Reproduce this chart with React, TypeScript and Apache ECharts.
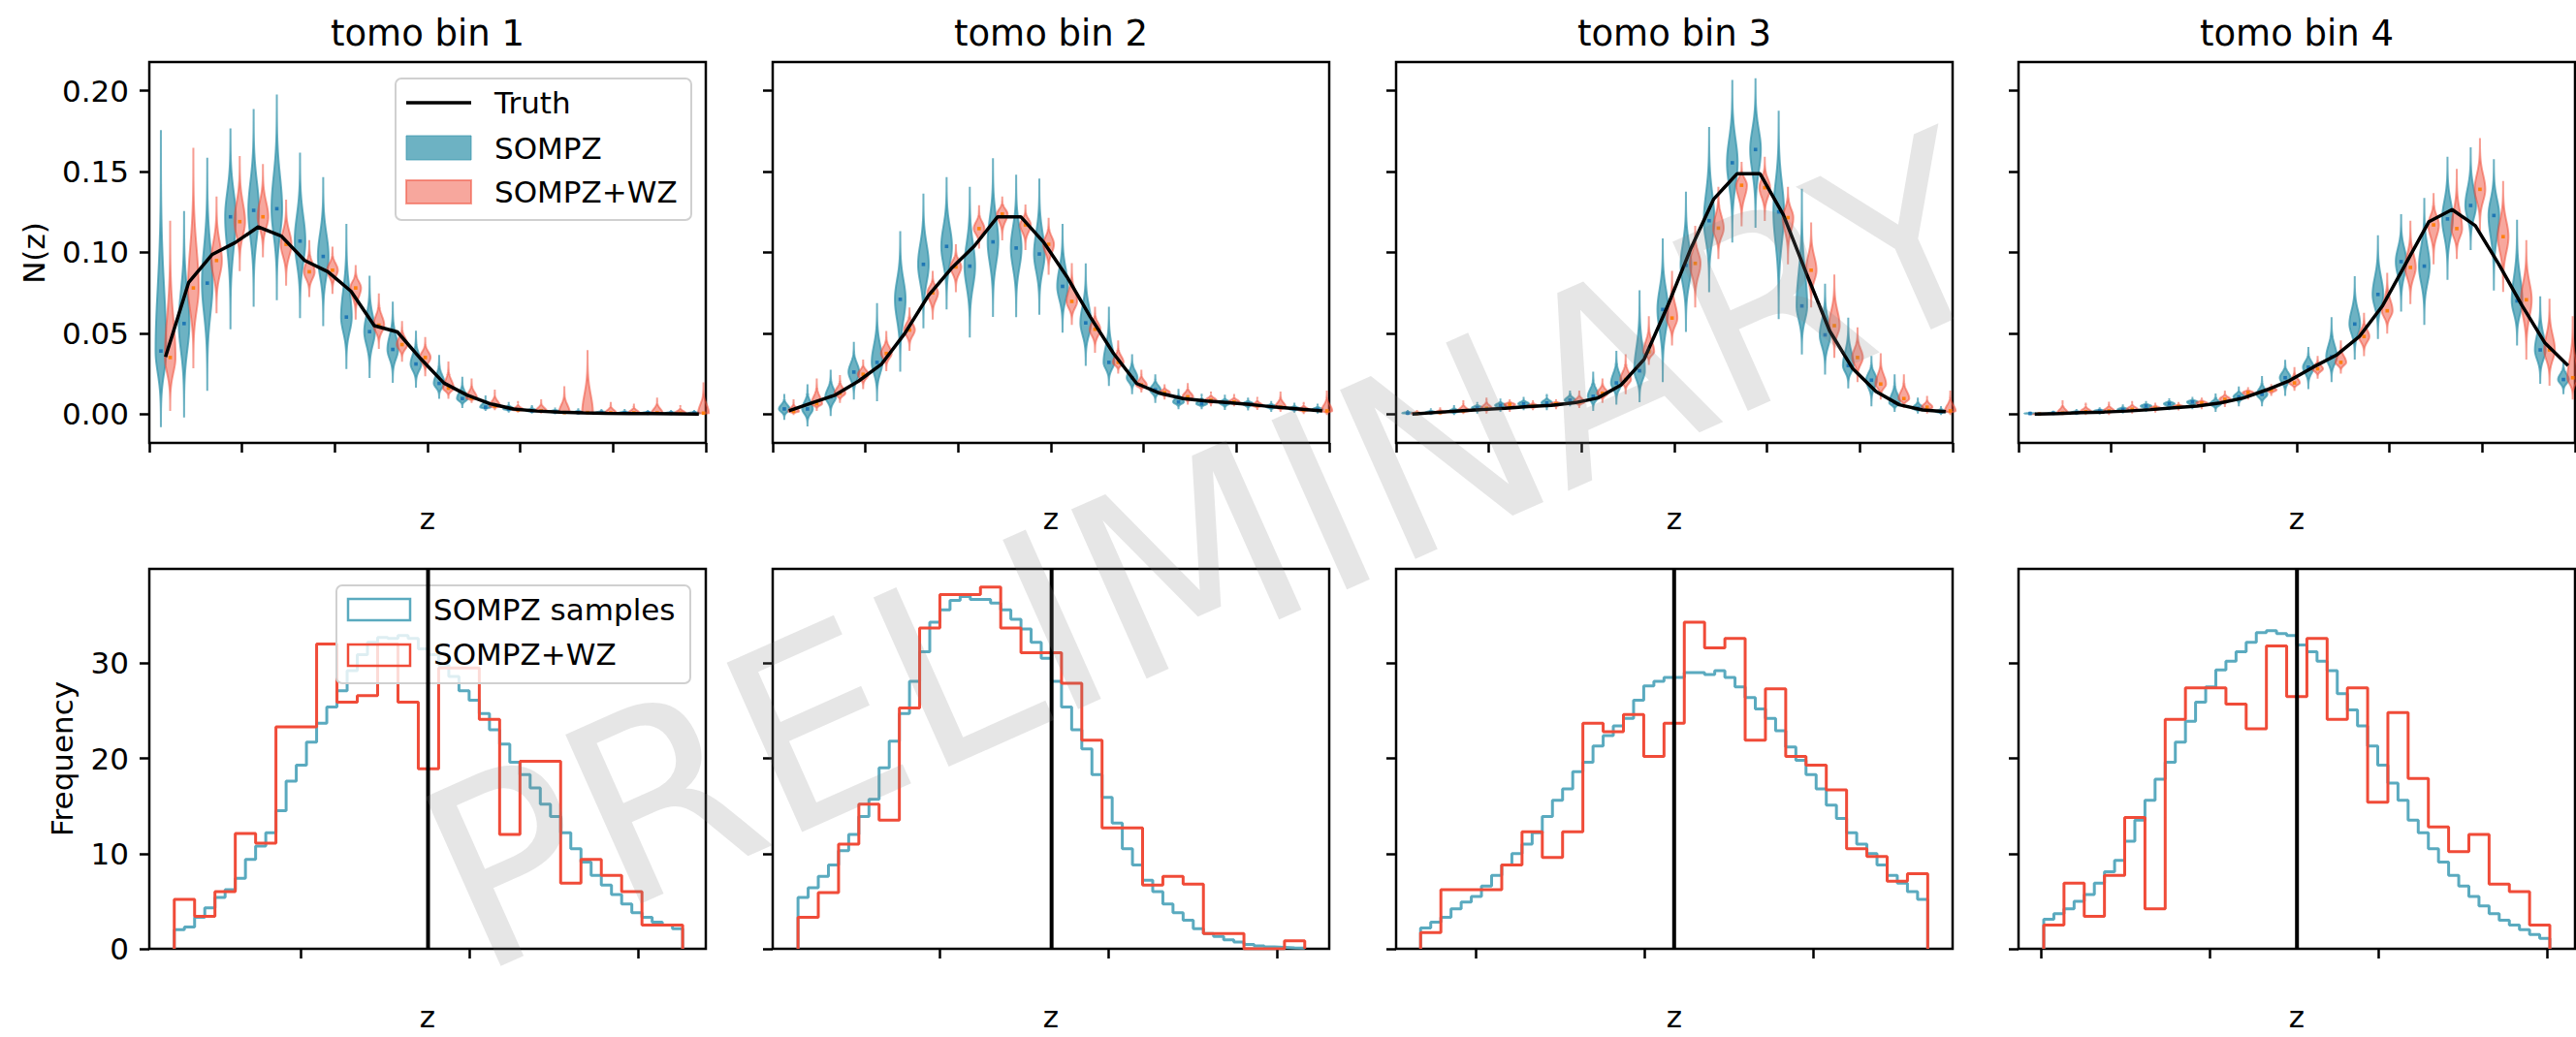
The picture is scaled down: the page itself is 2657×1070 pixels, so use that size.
import React, { useEffect, useRef } from "react";
import * as echarts from "echarts";

// ---------------- Figure layout ----------------
const FIG_W = 2657;
const FIG_H = 1070;
const PANEL_LEFT = [154, 797, 1440, 2082];
const PANEL_W = 574;
const TOP_Y = 64;
const TOP_H = 393;
const BOT_Y = 587;
const BOT_H = 392;
const FONT = "DejaVu Sans";

// ---------------- Top row: N(z) violins ----------------
const zBinCenters = [0.025, 0.075, 0.125, 0.175, 0.225, 0.275, 0.325, 0.375, 0.425, 0.475, 0.525, 0.575, 0.625, 0.675, 0.725, 0.775, 0.825, 0.875, 0.925, 0.975, 1.025, 1.075, 1.125, 1.175];
const SOMPZ_OFFSET = 0;
const TRUTH_OFFSET = 0.01;
const WZ_OFFSET = 0.02;
const nzTicksX = [0, 0.2, 0.4, 0.6, 0.8, 1.0, 1.2];
const nzTicksY = [0, 0.05, 0.1, 0.15, 0.2];
const NZ_Y_MIN = -0.0178;
const NZ_Y_MAX = 0.2177;
const titles = ["tomo bin 1", "tomo bin 2", "tomo bin 3", "tomo bin 4"];

// tomo bin 1
const bin1SompzMed = [0.039, 0.056, 0.081, 0.122, 0.126, 0.127, 0.107, 0.0975, 0.060, 0.051, 0.040, 0.031, 0.019, 0.0096, 0.0043, 0.0032, 0.002, 0.0015, 0.001, 0.001, 0.0008, 0.0008, 0.0006, 0.0006];
const bin1SompzLo = [-0.0075, -0.0015, 0.015, 0.053, 0.067, 0.071, 0.060, 0.055, 0.0285, 0.023, 0.020, 0.017, 0.010, 0.0043, 0.0026, 0.0015, 0.001, 0.0005, 0.0003, 0.0002, 0.0002, 0.0001, 0.0001, 0.0001];
const bin1SompzHi = [0.175, 0.125, 0.158, 0.176, 0.188, 0.197, 0.161, 0.146, 0.117, 0.085, 0.069, 0.051, 0.036, 0.0225, 0.011, 0.0069, 0.005, 0.0035, 0.003, 0.0025, 0.0025, 0.002, 0.002, 0.002];
const bin1WzMed = [0.035, 0.078, 0.095, 0.119, 0.122, 0.105, 0.088, 0.089, 0.078, 0.055, 0.043, 0.035, 0.016, 0.010, 0.005, 0.0026, 0.002, 0.001, 0.001, 0.0008, 0.0008, 0.0008, 0.0006, 0.0006];
const bin1WzLo = [0.0025, 0.029, 0.063, 0.089, 0.0975, 0.080, 0.073, 0.075, 0.059, 0.041, 0.033, 0.024, 0.010, 0.0075, 0.003, 0.0015, 0.001, 0.0006, 0.0006, 0.0004, 0.0004, 0.0004, 0.0003, 0.0003];
const bin1WzHi = [0.119, 0.164, 0.134, 0.159, 0.154, 0.132, 0.107, 0.103, 0.0915, 0.074, 0.057, 0.047, 0.032, 0.0215, 0.0146, 0.0075, 0.0086, 0.0167, 0.039, 0.0069, 0.0058, 0.0096, 0.005, 0.019];
const bin1Truth = [0.0354, 0.0815, 0.0986, 0.106, 0.1158, 0.110, 0.095, 0.088, 0.076, 0.0547, 0.0508, 0.0343, 0.0193, 0.0118, 0.0064, 0.0032, 0.0019, 0.0012, 0.0008, 0.0005, 0.0004, 0.0003, 0.0002, 0.0001];

// tomo bin 2
const bin2SompzMed = [0.0032, 0.0032, 0.0107, 0.026, 0.032, 0.071, 0.0926, 0.1037, 0.0915, 0.1065, 0.1027, 0.099, 0.079, 0.0564, 0.032, 0.0225, 0.015, 0.0075, 0.0064, 0.007, 0.0064, 0.0047, 0.0032, 0.0028];
const bin2SompzLo = [-0.003, -0.007, -0.0006, 0.0096, 0.0086, 0.0268, 0.0536, 0.0654, 0.048, 0.0607, 0.0605, 0.062, 0.051, 0.0304, 0.018, 0.0129, 0.0075, 0.0036, 0.0036, 0.0032, 0.0028, 0.002, 0.0015, 0.001];
const bin2SompzHi = [0.0118, 0.0178, 0.0268, 0.044, 0.068, 0.1125, 0.1357, 0.146, 0.140, 0.1576, 0.1475, 0.145, 0.117, 0.0926, 0.0658, 0.0364, 0.024, 0.015, 0.012, 0.0114, 0.0096, 0.0075, 0.0064, 0.0058];
const bin2WzMed = [0.0017, 0.0064, 0.0129, 0.0246, 0.0375, 0.052, 0.075, 0.091, 0.1147, 0.1237, 0.117, 0.105, 0.0697, 0.0525, 0.032, 0.018, 0.0133, 0.0107, 0.0086, 0.0075, 0.0054, 0.0043, 0.0026, 0.002];
const bin2WzLo = [0, 0.0026, 0.0075, 0.016, 0.0272, 0.0397, 0.059, 0.076, 0.103, 0.108, 0.102, 0.0868, 0.0557, 0.0386, 0.0257, 0.0139, 0.0096, 0.0064, 0.0054, 0.0054, 0.0032, 0.002, 0.0006, 0];
const bin2WzHi = [0.0086, 0.0214, 0.0236, 0.0332, 0.0508, 0.0654, 0.088, 0.1044, 0.1286, 0.134, 0.129, 0.1207, 0.0928, 0.0658, 0.045, 0.0268, 0.0178, 0.0186, 0.0133, 0.0118, 0.010, 0.0133, 0.0069, 0.014];
const bin2Truth = [0.002, 0.007, 0.0118, 0.0204, 0.031, 0.050, 0.073, 0.090, 0.104, 0.122, 0.122, 0.106, 0.0847, 0.060, 0.0375, 0.0189, 0.0129, 0.0096, 0.0081, 0.007, 0.0058, 0.0043, 0.0032, 0.002];

// tomo bin 3
const bin3SompzMed = [0.0006, 0.001, 0.0017, 0.0039, 0.0054, 0.0064, 0.0069, 0.0086, 0.011, 0.0193, 0.0268, 0.0647, 0.092, 0.1196, 0.1554, 0.1636, 0.125, 0.0669, 0.049, 0.030, 0.021, 0.007, 0.0036, 0.0015];
const bin3SompzLo = [0, 0, 0, 0.001, 0.002, 0.003, 0.003, 0.0054, 0.0026, 0.0064, 0.008, 0.0204, 0.0514, 0.076, 0.1067, 0.1158, 0.0594, 0.0375, 0.025, 0.0165, 0.0054, 0.002, 0.001, 0];
const bin3SompzHi = [0.002, 0.003, 0.005, 0.0069, 0.009, 0.010, 0.0118, 0.014, 0.0257, 0.0386, 0.076, 0.108, 0.137, 0.177, 0.206, 0.207, 0.187, 0.1387, 0.080, 0.059, 0.0354, 0.024, 0.0096, 0.0043];
const bin3WzMed = [0.0004, 0.001, 0.002, 0.0036, 0.006, 0.005, 0.0064, 0.0075, 0.0129, 0.0214, 0.0386, 0.0594, 0.0932, 0.115, 0.1415, 0.140, 0.1215, 0.089, 0.0547, 0.035, 0.0186, 0.0096, 0.0043, 0.002];
const bin3WzLo = [0, 0, 0.0006, 0.001, 0.002, 0.003, 0.0036, 0.0043, 0.0075, 0.0129, 0.031, 0.043, 0.0665, 0.0965, 0.1168, 0.120, 0.0932, 0.0665, 0.0354, 0.0204, 0.0096, 0.0043, 0.001, 0];
const bin3WzHi = [0.002, 0.0036, 0.008, 0.0096, 0.0086, 0.008, 0.0086, 0.014, 0.0214, 0.0364, 0.060, 0.088, 0.1158, 0.140, 0.1554, 0.1586, 0.140, 0.118, 0.0857, 0.053, 0.0371, 0.024, 0.0107, 0.014];
const bin3Truth = [0.0, 0.001, 0.002, 0.0028, 0.0036, 0.0047, 0.0054, 0.007, 0.010, 0.018, 0.034, 0.0665, 0.102, 0.133, 0.1486, 0.1486, 0.1233, 0.0868, 0.0514, 0.028, 0.014, 0.0058, 0.0026, 0.0015];

// tomo bin 4
const bin4SompzMed = [0.0004, 0.0006, 0.001, 0.002, 0.0028, 0.005, 0.0064, 0.0075, 0.0064, 0.0107, 0.0122, 0.0225, 0.029, 0.0354, 0.0557, 0.074, 0.0943, 0.0915, 0.1207, 0.129, 0.1228, 0.070, 0.0397, 0.0214];
const bin4SompzLo = [0, 0, 0, 0.0004, 0.001, 0.002, 0.003, 0.0036, 0.002, 0.0054, 0.0054, 0.0118, 0.016, 0.0204, 0.0343, 0.047, 0.064, 0.0557, 0.0836, 0.102, 0.077, 0.043, 0.0193, 0.0129];
const bin4SompzHi = [0.001, 0.0015, 0.0026, 0.0036, 0.0054, 0.0075, 0.0092, 0.010, 0.0122, 0.0165, 0.023, 0.033, 0.041, 0.0594, 0.0847, 0.110, 0.123, 0.133, 0.1586, 0.1644, 0.157, 0.1196, 0.0722, 0.033];
const bin4WzMed = [0, 0.0006, 0.0015, 0.002, 0.003, 0.0036, 0.0047, 0.0069, 0.0092, 0.0133, 0.015, 0.0193, 0.028, 0.032, 0.048, 0.0639, 0.0907, 0.117, 0.1147, 0.139, 0.1097, 0.0707, 0.0397, 0.0225];
const bin4WzLo = [0, 0, 0, 0, 0.001, 0.0015, 0.0028, 0.0036, 0.0049, 0.0096, 0.0118, 0.015, 0.0225, 0.0257, 0.0364, 0.0504, 0.0686, 0.0932, 0.0965, 0.1137, 0.0761, 0.0343, 0.0182, 0.0096];
const bin4WzHi = [0.0006, 0.008, 0.0064, 0.007, 0.0075, 0.0064, 0.0069, 0.0096, 0.014, 0.016, 0.018, 0.0285, 0.0354, 0.045, 0.062, 0.0868, 0.119, 0.136, 0.151, 0.170, 0.1436, 0.107, 0.0707, 0.060];
const bin4Truth = [0.0, 0.0004, 0.0009, 0.0013, 0.0019, 0.0028, 0.0039, 0.005, 0.0069, 0.010, 0.015, 0.0208, 0.029, 0.0364, 0.048, 0.067, 0.093, 0.119, 0.1265, 0.1165, 0.093, 0.0675, 0.044, 0.030];

// ---------------- Bottom row: mean-z histograms ----------------
const histYTicks = [0, 10, 20, 30];
const HIST_Y_MAX = 39.9;
const histXMin = [0.28205, 0.480121, 0.710568, 0.897333];
const histXMax = [0.34803, 0.546206, 0.776493, 0.96331];
const histXTicks = [[0.30, 0.32, 0.34], [0.50, 0.52, 0.54], [0.72, 0.74, 0.76], [0.90, 0.92, 0.94, 0.96]];
const histStart = [0.28501, 0.483127, 0.71347, 0.900322];
const wzBinWidth = [0.002411, 0.002407, 0.002403, 0.0024];
const sompzBinWidth = [0.0012055, 0.0012035, 0.0012015, 0.0012];
const truthMeanZ = [0.3151, 0.51324, 0.743507, 0.930345];

const wzCounts1 = [5.2, 3.4, 6.0, 12.1, 11.1, 23.3, 23.3, 32.0, 25.9, 26.6, 32.0, 25.9, 18.9, 29.5, 29.5, 24.1, 12.0, 19.7, 19.7, 6.9, 9.4, 7.7, 6.0, 2.5, 2.5];
const wzCounts2 = [3.3, 5.9, 11.0, 15.2, 13.5, 25.3, 33.7, 37.2, 37.2, 38.0, 33.7, 31.1, 31.1, 27.9, 21.9, 12.7, 12.7, 6.7, 7.6, 6.8, 1.6, 1.6, 0, 0, 0.85];
const wzCounts3 = [1.7, 6.2, 6.2, 6.2, 8.8, 12.3, 9.6, 12.3, 23.7, 22.8, 24.6, 20.2, 23.7, 34.3, 31.6, 32.6, 21.9, 27.3, 20.2, 19.3, 16.7, 10.5, 9.7, 7.1, 7.9];
const wzCounts4 = [2.5, 6.9, 3.4, 7.7, 13.8, 4.2, 24.1, 27.4, 27.4, 25.7, 23.1, 31.8, 26.5, 32.6, 24.1, 27.4, 15.4, 24.8, 17.9, 12.8, 10.2, 12.0, 6.8, 6.0, 2.5];

const sompzCounts1 = [2.0, 2.3, 3.3, 4.3, 5.4, 6.2, 7.4, 9.4, 10.8, 12.2, 14.5, 17.6, 19.3, 21.7, 23.7, 25.4, 27.1, 29.2, 30.9, 32.2, 32.7, 32.6, 32.9, 32.6, 31.5, 30.9, 29.8, 28.6, 27.1, 26.1, 24.7, 23.0, 21.5, 19.6, 18.3, 16.9, 15.2, 13.9, 12.2, 10.5, 9.1, 7.7, 6.7, 5.7, 4.7, 3.8, 3.3, 2.8, 2.5, 2.1];
const sompzCounts2 = [5.4, 6.4, 7.6, 8.8, 10.3, 12.0, 13.9, 15.7, 19.0, 21.8, 24.7, 28.1, 31.2, 34.3, 35.6, 36.6, 37.0, 36.7, 36.7, 36.3, 35.6, 34.6, 33.6, 32.2, 30.5, 28.1, 25.4, 23.0, 21.0, 18.3, 15.9, 13.2, 10.5, 8.8, 7.2, 6.0, 4.7, 3.8, 3.0, 2.1, 1.6, 1.3, 0.95, 0.7, 0.45, 0.3, 0.2, 0.15, 0.1, 0.07];
const sompzCounts3 = [2.2, 2.8, 3.3, 4.2, 4.9, 5.5, 6.6, 7.7, 8.8, 10.0, 11.0, 12.2, 13.9, 15.6, 16.8, 18.6, 19.6, 21.3, 22.4, 23.4, 24.2, 26.1, 27.6, 28.1, 28.5, 28.5, 29.0, 29.0, 28.8, 29.2, 28.5, 27.5, 26.4, 25.2, 24.2, 22.9, 21.2, 19.8, 18.3, 16.8, 15.1, 13.7, 12.2, 11.0, 10.0, 8.8, 7.7, 6.9, 6.0, 5.2];
const sompzCounts4 = [3.1, 3.7, 4.2, 5.0, 5.7, 6.9, 8.1, 9.3, 11.3, 13.5, 15.6, 17.8, 19.6, 21.7, 23.9, 25.9, 27.5, 29.3, 30.2, 31.2, 32.2, 33.2, 33.4, 33.1, 32.9, 31.9, 31.2, 30.2, 29.2, 26.8, 25.1, 23.4, 21.3, 19.3, 17.4, 15.6, 13.5, 12.2, 10.5, 9.1, 7.7, 6.6, 5.5, 4.5, 3.7, 3.0, 2.5, 2.0, 1.5, 1.1];

// ---------------- Styles ----------------
const SOMPZ_FILL = "rgba(52,148,172,0.72)";
const SOMPZ_EDGE = "rgba(52,148,172,0.72)";
const WZ_FILL = "rgba(240,80,60,0.5)";
const WZ_EDGE = "rgba(240,80,60,0.55)";
const SOMPZ_DOT = "#1f77b4";
const WZ_DOT = "#ff7f0e";
const HIST_BLUE = "#5aaabf";
const HIST_RED = "#f04b38";
const VIOLIN_WIDTH = 0.023;
const TAIL_K = 3.5;

const nzPanels = [
  { sompz: [bin1SompzLo, bin1SompzMed, bin1SompzHi], wz: [bin1WzLo, bin1WzMed, bin1WzHi], truth: bin1Truth },
  { sompz: [bin2SompzLo, bin2SompzMed, bin2SompzHi], wz: [bin2WzLo, bin2WzMed, bin2WzHi], truth: bin2Truth },
  { sompz: [bin3SompzLo, bin3SompzMed, bin3SompzHi], wz: [bin3WzLo, bin3WzMed, bin3WzHi], truth: bin3Truth },
  { sompz: [bin4SompzLo, bin4SompzMed, bin4SompzHi], wz: [bin4WzLo, bin4WzMed, bin4WzHi], truth: bin4Truth },
];
const wzCounts = [wzCounts1, wzCounts2, wzCounts3, wzCounts4];
const sompzCounts = [sompzCounts1, sompzCounts2, sompzCounts3, sompzCounts4];

function makeViolinRenderer(fill: string, stroke: string, dot: string) {
  return function (params: any, api: any) {
    const x = api.value(0);
    const lo = api.value(1);
    const med = api.value(2);
    const hi = api.value(3);
    const half = api.size([VIOLIN_WIDTH, 0])[0] / 2;
    const sUp = Math.max((hi - med) / TAIL_K, 1e-6);
    const sDn = Math.max((med - lo) / TAIL_K, 1e-6);
    const vals: number[] = [];
    const N = 30;
    for (let k = 0; k <= N; k++) vals.push(lo + ((med - lo) * k) / N);
    for (let k = 1; k <= N; k++) vals.push(med + ((hi - med) * k) / N);
    const right: number[][] = [];
    const left: number[][] = [];
    for (const v of vals) {
      const s = v >= med ? sUp : sDn;
      const d = (v - med) / s;
      const w = half * Math.exp(-0.5 * d * d);
      const p = api.coord([x, v]);
      right.push([p[0] + w, p[1]]);
      left.push([p[0] - w, p[1]]);
    }
    left.reverse();
    const pm = api.coord([x, med]);
    return {
      type: "group",
      children: [
        { type: "polygon", shape: { points: right.concat(left) }, style: { fill, stroke, lineWidth: 2 } },
        { type: "rect", shape: { x: pm[0] - 1.8, y: pm[1] - 1.8, width: 3.6, height: 3.6 }, style: { fill: dot } },
      ],
    };
  };
}

function stepPoints(start: number, width: number, counts: number[]) {
  const pts: number[][] = [[start, 0]];
  counts.forEach((c, i) => {
    pts.push([start + i * width, c]);
    pts.push([start + (i + 1) * width, c]);
  });
  pts.push([start + counts.length * width, 0]);
  return pts;
}

const tickStyle = { color: "#000", width: 2.5 };
const labelStyle = { color: "#000", fontSize: 31, fontFamily: FONT, margin: 21 };

function textEl(text: string, x: number, y: number, opts: any = {}) {
  return {
    type: "text",
    x,
    y,
    rotation: opts.rotation || 0,
    z: opts.z || 30,
    silent: true,
    style: {
      text,
      fill: opts.fill || "#000",
      fontSize: opts.fontSize || 31,
      fontFamily: FONT,
      align: opts.align || "center",
      verticalAlign: "middle",
      textAlign: opts.align || "center",
      textVerticalAlign: "middle",
    },
  };
}

function buildOption() {
  const grid: any[] = [];
  const xAxis: any[] = [];
  const yAxis: any[] = [];
  const series: any[] = [];

  // top row
  nzPanels.forEach((p, k) => {
    grid.push({ left: PANEL_LEFT[k], top: TOP_Y, width: PANEL_W, height: TOP_H, show: true, borderColor: "#000", borderWidth: 2.5, backgroundColor: "transparent", outerBoundsMode: "none" });
    xAxis.push({
      gridIndex: k, type: "value", min: 0, max: 1.2, interval: 0.2,
      axisLine: { show: false, onZero: false },
      axisTick: { show: true, length: 10, lineStyle: tickStyle, customValues: nzTicksX },
      axisLabel: { show: false }, splitLine: { show: false },
    });
    yAxis.push({
      gridIndex: k, type: "value", min: NZ_Y_MIN, max: NZ_Y_MAX,
      axisLine: { show: false, onZero: false },
      axisTick: { show: true, length: 10, lineStyle: tickStyle, customValues: nzTicksY },
      axisLabel: k === 0 ? { show: true, customValues: nzTicksY, formatter: (v: number) => v.toFixed(2), ...labelStyle } : { show: false },
      splitLine: { show: false },
    });
    series.push({
      type: "custom", name: "SOMPZ", xAxisIndex: k, yAxisIndex: k, z: 3, silent: true,
      renderItem: makeViolinRenderer(SOMPZ_FILL, SOMPZ_EDGE, SOMPZ_DOT),
      data: zBinCenters.map((c, i) => [c + SOMPZ_OFFSET, p.sompz[0][i], p.sompz[1][i], p.sompz[2][i]]),
    });
    series.push({
      type: "custom", name: "SOMPZ+WZ", xAxisIndex: k, yAxisIndex: k, z: 4, silent: true,
      renderItem: makeViolinRenderer(WZ_FILL, WZ_EDGE, WZ_DOT),
      data: zBinCenters.map((c, i) => [c + WZ_OFFSET, p.wz[0][i], p.wz[1][i], p.wz[2][i]]),
    });
    series.push({
      type: "line", name: "Truth", xAxisIndex: k, yAxisIndex: k, z: 5, silent: true,
      showSymbol: false, symbol: "none", lineStyle: { color: "#000", width: 3.5 },
      data: zBinCenters.map((c, i) => [c + TRUTH_OFFSET, p.truth[i]]),
    });
  });

  // bottom row
  for (let k = 0; k < 4; k++) {
    const gi = 4 + k;
    grid.push({ left: PANEL_LEFT[k], top: BOT_Y, width: PANEL_W, height: BOT_H, show: true, borderColor: "#000", borderWidth: 2.5, backgroundColor: "transparent", outerBoundsMode: "none" });
    xAxis.push({
      gridIndex: gi, type: "value", min: histXMin[k], max: histXMax[k],
      axisLine: { show: false, onZero: false },
      axisTick: { show: true, length: 10, lineStyle: tickStyle, customValues: histXTicks[k] },
      axisLabel: { show: false }, splitLine: { show: false },
    });
    yAxis.push({
      gridIndex: gi, type: "value", min: 0, max: HIST_Y_MAX,
      axisLine: { show: false, onZero: false },
      axisTick: { show: true, length: 10, lineStyle: tickStyle, customValues: histYTicks },
      axisLabel: k === 0 ? { show: true, customValues: histYTicks, formatter: (v: number) => String(v), ...labelStyle } : { show: false },
      splitLine: { show: false },
    });
    series.push({
      type: "line", name: "SOMPZ samples", xAxisIndex: gi, yAxisIndex: gi, z: 3, silent: true,
      showSymbol: false, symbol: "none", lineStyle: { color: HIST_BLUE, width: 3 },
      data: stepPoints(histStart[k], sompzBinWidth[k], sompzCounts[k]),
    });
    series.push({
      type: "line", name: "SOMPZ+WZ", xAxisIndex: gi, yAxisIndex: gi, z: 4, silent: true,
      showSymbol: false, symbol: "none", lineStyle: { color: HIST_RED, width: 3 },
      data: stepPoints(histStart[k], wzBinWidth[k], wzCounts[k]),
    });
    series.push({
      type: "line", name: "truth mean", xAxisIndex: gi, yAxisIndex: gi, z: 100, silent: true,
      showSymbol: false, symbol: "none", lineStyle: { color: "#000", width: 4 },
      data: [[truthMeanZ[k], 0], [truthMeanZ[k], HIST_Y_MAX]],
    });
  }

  const graphic: any[] = [];
  // titles and axis names
  titles.forEach((t, k) => graphic.push(textEl(t, PANEL_LEFT[k] + PANEL_W / 2, 34, { fontSize: 37 })));
  for (let k = 0; k < 4; k++) {
    graphic.push(textEl("z", PANEL_LEFT[k] + PANEL_W / 2, 535));
    graphic.push(textEl("z", PANEL_LEFT[k] + PANEL_W / 2, 1049));
  }
  graphic.push(textEl("N(z)", 35, 261, { rotation: Math.PI / 2 }));
  graphic.push(textEl("Frequency", 64, 783, { rotation: Math.PI / 2 }));

  // top legend
  graphic.push({ type: "rect", z: 50, silent: true, shape: { x: 408, y: 81, width: 305, height: 146, r: 6 }, style: { fill: "rgba(255,255,255,0.8)", stroke: "#d0d0d0", lineWidth: 2 } });
  graphic.push({ type: "line", z: 51, silent: true, shape: { x1: 419, y1: 106, x2: 486, y2: 106 }, style: { stroke: "#000", lineWidth: 3.5 } });
  graphic.push({ type: "rect", z: 51, silent: true, shape: { x: 419, y: 140, width: 67, height: 25 }, style: { fill: SOMPZ_FILL, stroke: SOMPZ_EDGE, lineWidth: 1 } });
  graphic.push({ type: "rect", z: 51, silent: true, shape: { x: 419, y: 186, width: 67, height: 24 }, style: { fill: WZ_FILL, stroke: WZ_EDGE, lineWidth: 2 } });
  graphic.push(textEl("Truth", 510, 106, { align: "left", z: 52 }));
  graphic.push(textEl("SOMPZ", 510, 153, { align: "left", z: 52 }));
  graphic.push(textEl("SOMPZ+WZ", 510, 198, { align: "left", z: 52 }));

  // bottom legend
  graphic.push({ type: "rect", z: 50, silent: true, shape: { x: 347, y: 604, width: 365, height: 101, r: 6 }, style: { fill: "rgba(255,255,255,0.8)", stroke: "#d0d0d0", lineWidth: 2 } });
  graphic.push({ type: "rect", z: 51, silent: true, shape: { x: 359, y: 618, width: 64, height: 22 }, style: { fill: "transparent", stroke: HIST_BLUE, lineWidth: 2.5 } });
  graphic.push({ type: "rect", z: 51, silent: true, shape: { x: 359, y: 665, width: 64, height: 22 }, style: { fill: "transparent", stroke: HIST_RED, lineWidth: 2.5 } });
  graphic.push(textEl("SOMPZ samples", 447, 629, { align: "left", z: 52 }));
  graphic.push(textEl("SOMPZ+WZ", 447, 675, { align: "left", z: 52 }));

  // watermark
  graphic.push(textEl("PRELIMINARY", 1248, 572, { rotation: (24 * Math.PI) / 180, fontSize: 262, fill: "rgba(128,128,128,0.2)", z: 200 }));

  return {
    animation: false,
    backgroundColor: "#ffffff",
    grid,
    xAxis,
    yAxis,
    series,
    graphic: { elements: graphic },
  };
}

export default function App() {
  const ref = useRef<HTMLDivElement>(null);
  useEffect(() => {
    if (!ref.current) return;
    const chart = echarts.init(ref.current, undefined, { renderer: "svg", width: FIG_W, height: FIG_H });
    chart.setOption(buildOption() as any);
    return () => chart.dispose();
  }, []);
  return (
    <div
      ref={ref}
      style={{ position: "absolute", left: 0, top: 0, width: FIG_W, height: FIG_H, background: "#fff" }}
    />
  );
}
